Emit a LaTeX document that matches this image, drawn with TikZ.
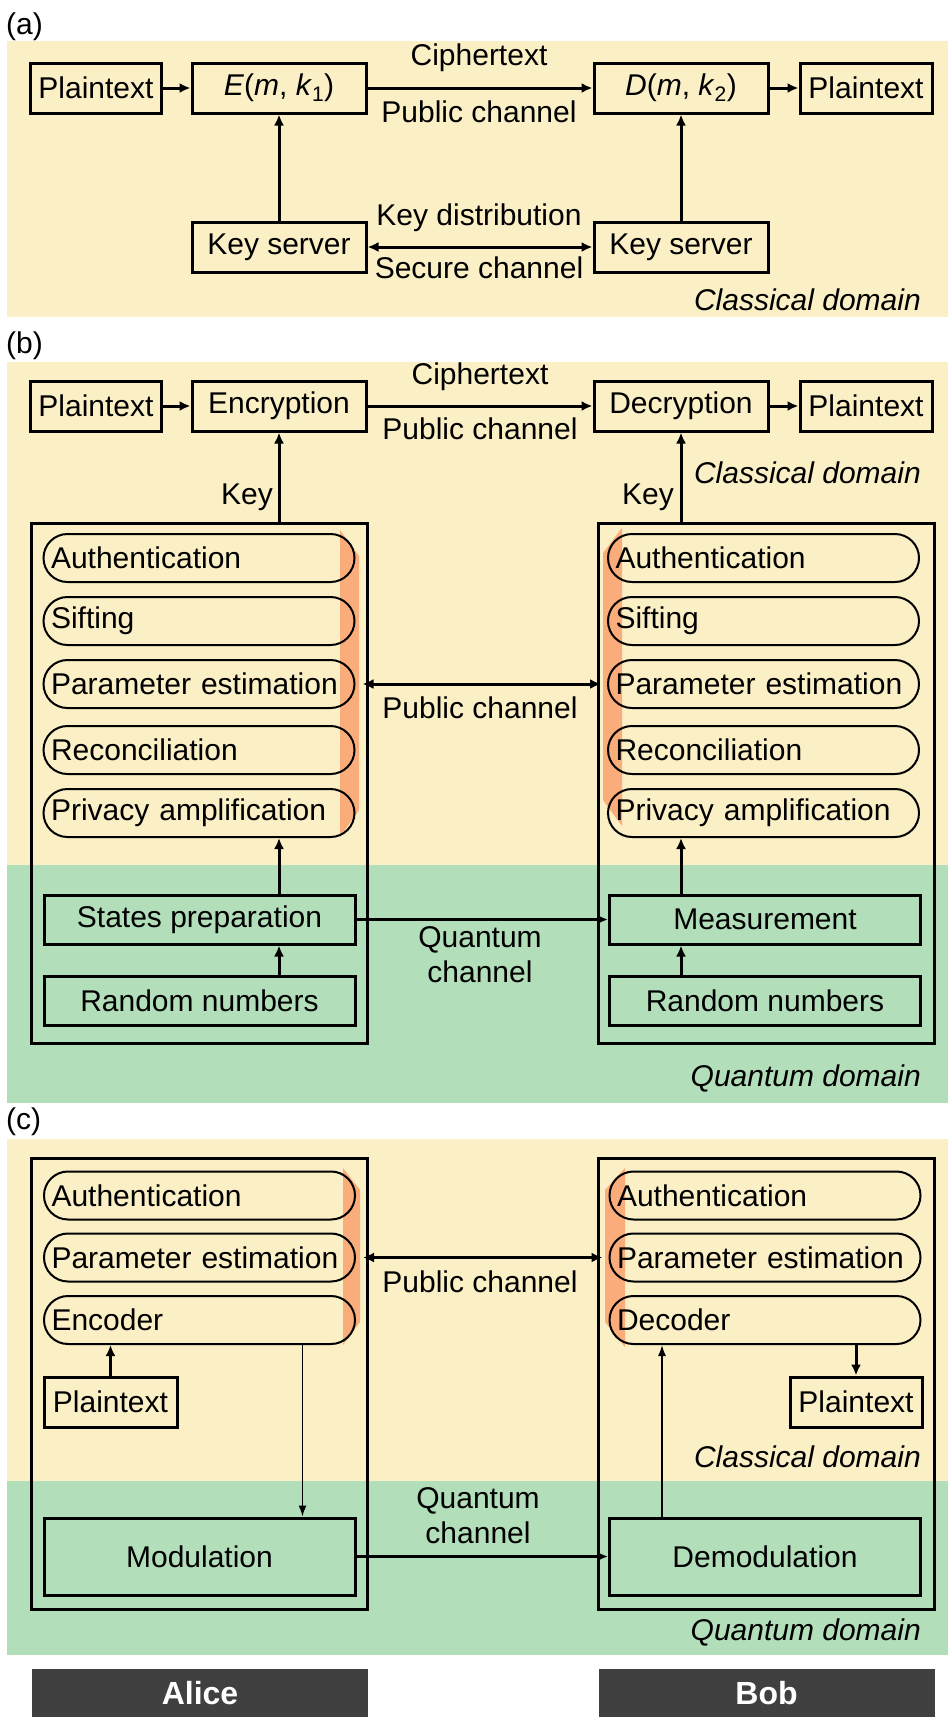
\documentclass[tikz,border=0pt]{standalone}
\usepackage{fontspec}
\setmainfont{Liberation Sans}
\usetikzlibrary{arrows.meta}
\definecolor{classbg}{RGB}{251,239,197}
\definecolor{quantbg}{RGB}{178,222,186}
\definecolor{barorange}{RGB}{250,172,122}
\definecolor{namebar}{RGB}{64,64,64}
\newcommand{\diagfont}{\fontsize{30}{35}\selectfont}

\begin{document}
\begin{tikzpicture}[x=1pt,y=-1pt,
  blk/.style={draw,line width=3pt,inner sep=0pt,minimum height=50pt,font=\diagfont},
  pill/.style={draw,line width=2pt,rounded corners=24pt,minimum width=311pt,minimum height=48pt,
    text width=296pt,inner xsep=7.5pt,inner ysep=0pt,align=left,font=\diagfont},
  partybox/.style={draw,line width=3pt,minimum width=336pt},
  lbl/.style={font=\diagfont,inner sep=0pt},
  dom/.style={font=\diagfont\itshape,anchor=east,inner sep=0pt},
  arr/.style={line width=3pt,-{Latex[length=11pt,width=10pt]}},
  darr/.style={line width=3pt,{Latex[length=11pt,width=10pt]}-{Latex[length=11pt,width=10pt]}},
  tarr/.style={line width=1.5pt,-{Latex[length=11pt,width=8pt]}},
  who/.style={fill=namebar,text=white,font=\fontsize{32}{38}\selectfont\bfseries,
    minimum width=336pt,minimum height=48pt,inner sep=0pt}]
\useasboundingbox (0,0) rectangle (952,1722);

% domains
\fill[classbg] (7,41) rectangle (948,317);
\fill[classbg] (7,362) rectangle (948,865);
\fill[quantbg] (7,865) rectangle (948,1103);
\fill[classbg] (7,1139) rectangle (948,1481);
\fill[quantbg] (7,1481) rectangle (948,1655);

\node[lbl,anchor=west] (tagA) at (6,27) {(a)};
\node[lbl,anchor=west] (tagB) at (6,346) {(b)};
\node[lbl,anchor=west] (tagC) at (6,1122) {(c)};

% (a) classical
\node[blk,minimum width=131pt] (ptA1) at (96,88) {Plaintext};
\node[blk,minimum width=174pt] (encA) at (279,88) {\textit{E}(\textit{m}, \textit{k}\textsubscript{1})};
\node[blk,minimum width=174pt] (decA) at (681,88) {\textit{D}(\textit{m}, \textit{k}\textsubscript{2})};
\node[blk,minimum width=132pt] (ptA2) at (866,88) {Plaintext};
\node[blk,minimum width=174pt] (ksA) at (279,247) {Key server};
\node[blk,minimum width=174pt] (ksB) at (681,247) {Key server};
\draw[arr] (ptA1) -- (encA);
\draw[arr] (encA) -- (decA);
\draw[arr] (decA) -- (ptA2);
\draw[arr] (ksA) -- (encA);
\draw[arr] (ksB) -- (decA);
\draw[darr] (ksA) -- (ksB);
\node[lbl] (ctA) at (479,58) {Ciphertext};
\node[lbl] (pubA) at (479,112) {Public channel};
\node[lbl] (kdA) at (479,218) {Key distribution};
\node[lbl] (secA) at (479,268) {Secure channel};
\node[dom] (clA) at (921,300) {Classical domain};

% (b) QKD
\node[blk,minimum width=131pt] (ptB1) at (96,406) {Plaintext};
\node[blk,minimum width=174pt] (encB) at (279,406) {Encryption};
\node[blk,minimum width=174pt] (decB) at (681,406) {Decryption};
\node[blk,minimum width=132pt] (ptB2) at (866,406) {Plaintext};
\draw[arr] (ptB1) -- (encB);
\draw[arr] (encB) -- (decB);
\draw[arr] (decB) -- (ptB2);
\node[lbl] (ctB) at (480,377) {Ciphertext};
\node[lbl] (pubB) at (480,429) {Public channel};

\node[partybox,minimum height=520pt] (aliceB) at (199,783) {};
\node[partybox,minimum height=520pt] (bobB) at (766,783) {};
\draw[arr] (aliceB.north -| encB) -- (encB);
\draw[arr] (bobB.north -| decB) -- (decB);
\node[lbl,anchor=east] (keyB1) at (273,497) {Key};
\node[lbl,anchor=east] (keyB2) at (674,497) {Key};
\node[dom] (clB) at (921,473) {Classical domain};

\fill[barorange] (340,530) -- (359,556) -- (359,810) -- (340,837) -- cycle;
\fill[barorange] (622,528) -- (603,553) -- (603,800) -- (622,826) -- cycle;
\node[pill] (alAuthB) at (199,558) {Authentication};
\node[pill] (alSiftB) at (199,621) {Sifting};
\node[pill] (alParB) at (199,684) {Parameter estimation};
\node[pill] (alRecB) at (199,750) {Reconciliation};
\node[pill] (alPrivB) at (199,813) {Privacy amplification};
\node[pill] (boAuthB) at (763.5,558) {Authentication};
\node[pill] (boSiftB) at (763.5,621) {Sifting};
\node[pill] (boParB) at (763.5,684) {Parameter estimation};
\node[pill] (boRecB) at (763.5,750) {Reconciliation};
\node[pill] (boPrivB) at (763.5,813) {Privacy amplification};
\draw[darr] ([xshift=7pt]alParB.east) -- ([xshift=-6pt]boParB.west);
\node[lbl] (pubB2) at (480,708) {Public channel};

\node[blk,minimum width=311pt,minimum height=49pt] (stA) at (199.5,919.5) {States preparation};
\node[blk,minimum width=311pt,minimum height=49pt] (rndA) at (199.5,1001) {Random numbers};
\node[blk,minimum width=311pt,minimum height=49pt] (measB) at (765,919.5) {Measurement};
\node[blk,minimum width=311pt,minimum height=49pt] (rndB) at (765,1001) {Random numbers};
\draw[arr] (rndA.north -| encB) -- (stA.south -| encB);
\draw[arr] (stA.north -| encB) -- (alPrivB.south -| encB);
\draw[arr] (rndB.north -| decB) -- (measB.south -| decB);
\draw[arr] (measB.north -| decB) -- (boPrivB.south -| decB);
\draw[arr] (stA) -- (measB);
\node[lbl,align=center] (qcB) at (480,955) {Quantum\\channel};
\node[dom] (qdB) at (921,1078) {Quantum domain};

% (c) QSDC
\node[partybox,minimum height=451pt] (aliceC) at (199,1383.5) {};
\node[partybox,minimum height=451pt] (bobC) at (766,1383.5) {};
\fill[barorange] (343,1168) -- (360,1190) -- (360,1322) -- (343,1345) -- cycle;
\fill[barorange] (625,1168) -- (605,1190) -- (605,1322) -- (625,1347) -- cycle;
\node[pill] (alAuthC) at (199.5,1195.5) {Authentication};
\node[pill] (alParC) at (199.5,1257.5) {Parameter estimation};
\node[pill] (alEncC) at (199.5,1320) {Encoder};
\node[pill] (boAuthC) at (765,1195.5) {Authentication};
\node[pill] (boParC) at (765,1257.5) {Parameter estimation};
\node[pill] (boDecC) at (765,1320) {Decoder};
\draw[darr] ([xshift=7pt]alParC.east) -- ([xshift=-6pt]boParC.west);
\node[lbl] (pubC) at (480,1282) {Public channel};

\node[blk,minimum width=133pt] (ptC1) at (110.5,1402) {Plaintext};
\node[blk,minimum width=132pt] (ptC2) at (856,1402) {Plaintext};
\draw[arr] (ptC1) -- (alEncC.south -| ptC1);
\draw[arr] (boDecC.south -| ptC2) -- (ptC2);
\node[dom] (clC) at (921,1457) {Classical domain};

\node[blk,minimum width=311pt,minimum height=77pt] (modC) at (199.5,1556.5) {Modulation};
\node[blk,minimum width=311pt,minimum height=77pt] (demodC) at (765,1556.5) {Demodulation};
\draw[tarr] ([xshift=103pt]alEncC.south) -- ([xshift=103pt]modC.north);
\draw[tarr] ([xshift=-103pt]demodC.north) -- ([xshift=-103pt]boDecC.south);
\draw[arr] (modC) -- (demodC);
\node[lbl,align=center] (qcC) at (478,1516) {Quantum\\channel};
\node[dom] (qdC) at (921,1632) {Quantum domain};

% parties
\node[who] (alice) at (200,1693) {Alice};
\node[who] (bob) at (766.5,1693) {Bob};
\end{tikzpicture}
\end{document}
